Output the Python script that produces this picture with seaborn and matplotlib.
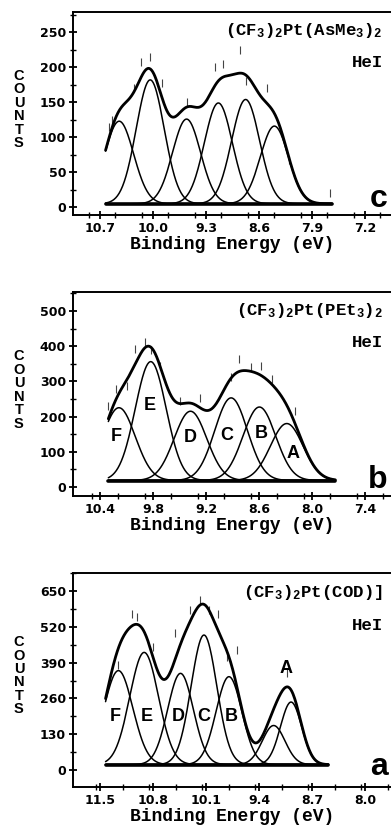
import numpy as np
import pandas as pd
import matplotlib
matplotlib.use("Agg")
import matplotlib.pyplot as plt
from matplotlib.ticker import MultipleLocator
import seaborn as sns

sns.set_theme(style="ticks")
plt.rcParams["font.family"] = ["DejaVu Sans"]
plt.rcParams["text.color"] = "black"
plt.rcParams["axes.labelcolor"] = "black"
plt.rcParams["xtick.color"] = "black"
plt.rcParams["ytick.color"] = "black"
plt.rcParams["mathtext.fontset"] = "custom"
plt.rcParams["mathtext.rm"] = "Liberation Mono:bold"
plt.rcParams["mathtext.it"] = "Liberation Mono:bold"
plt.rcParams["mathtext.bf"] = "Liberation Mono:bold"

# ---------------- data ----------------
# panel c : (CF3)2Pt(AsMe3)2
c_centers = [10.45, 10.04, 9.56, 9.14, 8.78, 8.40]
c_heights = [118, 177, 121, 144, 149, 111]
c_sigmas = [0.19, 0.185, 0.185, 0.185, 0.185, 0.185]
c_baseline = 5
c_range = [10.63, 7.64]
c_obs_e = [10.58, 10.55, 10.26, 10.16, 10.04, 9.89, 9.56, 9.18, 9.08, 8.86, 8.78, 8.50, 8.21, 7.67]
c_obs_y = [115, 125, 170, 207, 215, 177, 150, 200, 205, 224, 181, 171, 67, 21]
c_xticks = [10.7, 10.0, 9.3, 8.6, 7.9, 7.2]
c_yticks = [0, 50, 100, 150, 200, 250]

# panel b : (CF3)2Pt(PEt3)2
b_labels = ["F", "E", "D", "C", "B", "A"]
b_centers = [10.19, 9.83, 9.38, 8.92, 8.60, 8.29]
b_heights = [207, 338, 197, 235, 209, 162]
b_sigmas = [0.185, 0.175, 0.185, 0.185, 0.185, 0.185]
b_baseline = 18
b_range = [10.31, 7.74]
b_lab_e = [10.22, 9.84, 9.38, 8.97, 8.58, 8.22]
b_lab_y = [144, 231, 139, 146, 151, 94]
b_obs_e = [10.31, 10.22, 10.10, 10.01, 9.89, 9.83, 9.73, 9.50, 9.27, 8.92, 8.83, 8.69, 8.58, 8.46, 8.20]
b_obs_y = [230, 278, 288, 392, 411, 388, 345, 245, 254, 311, 364, 340, 345, 307, 216]
b_xticks = [10.4, 9.8, 9.2, 8.6, 8.0, 7.4]
b_yticks = [0, 100, 200, 300, 400, 500]

# panel a : (CF3)2Pt(COD)
a_centers = [11.26, 10.92, 10.44, 10.13, 9.80, 9.21, 8.98]
a_heights = [341, 407, 331, 470, 319, 142, 227]
a_sigmas = [0.19, 0.19, 0.17, 0.17, 0.17, 0.15, 0.14]
a_baseline = 20
a_range = [11.43, 8.49]
a_lab_txt = ["F", "E", "D", "C", "B", "A"]
a_lab_e = [11.30, 10.88, 10.47, 10.13, 9.77, 9.05]
a_lab_y = [194, 194, 194, 194, 194, 367]
a_obs_e = [11.26, 11.08, 11.01, 10.81, 10.51, 10.31, 10.18, 10.07, 9.95, 9.82, 9.69, 9.03]
a_obs_y = [381, 568, 556, 447, 496, 580, 617, 580, 568, 411, 435, 351]
a_xticks = [11.5, 10.8, 10.1, 9.4, 8.7, 8.0]
a_yticks = [0, 130, 260, 390, 520, 650]

# ---------------------------------------------------------------
W, H = 391, 831
fig = plt.figure(figsize=(W / 100, H / 100), dpi=100)
fig.patch.set_facecolor("white")

mono = ["Liberation Mono", "DejaVu Sans Mono"]


def panel(rect_px, centers, heights, sigmas, base, drange, xlim, ylim,
          xticks, yticks, formula, letter, letter_y, obs_e, obs_y,
          lab_e=None, lab_y=None, lab_txt=None):
    x0, top, bottom = rect_px
    ax = fig.add_axes([x0 / W, 1 - bottom / H, (W - x0) / W, (bottom - top) / H])
    grid = np.linspace(drange[0], drange[1], 400)
    comps = []
    for c0, h, s in zip(centers, heights, sigmas):
        g = h * np.exp(-0.5 * ((grid - c0) / s) ** 2)
        comps.append(g)
        sns.lineplot(data=pd.DataFrame({"e": grid, "y": base + g}), x="e", y="y",
                     ax=ax, color="black", lw=1.1)
    env = base + np.sum(comps, axis=0)
    sns.lineplot(data=pd.DataFrame({"e": grid, "y": env}), x="e", y="y",
                 ax=ax, color="black", lw=2.0)
    sns.lineplot(data=pd.DataFrame({"e": drange, "y": [base, base]}), x="e", y="y",
                 ax=ax, color="black", lw=2.6)
    sns.scatterplot(x=obs_e, y=obs_y, ax=ax, marker="|", color="#444444",
                    s=40, linewidth=0.8)
    if lab_e is not None:
        for e, yv, t in zip(lab_e, lab_y, lab_txt):
            ax.text(e, yv, t, ha="center", va="center", fontsize=13,
                    fontweight="bold", family="Liberation Sans", color="black")
    ax.set_xlim(*xlim)
    ax.set_ylim(*ylim)
    ax.set_xticks(xticks)
    ax.set_xticklabels([f"{v:.1f}" for v in xticks])
    ax.set_yticks(yticks)
    ax.set_yticklabels([str(v) for v in yticks])
    ax.xaxis.set_minor_locator(MultipleLocator((xticks[0] - xticks[1]) / 2))
    ax.yaxis.set_minor_locator(MultipleLocator((yticks[1] - yticks[0]) / 2))
    ax.tick_params(which="major", direction="inout", length=6, width=1.3,
                   labelsize=9, pad=2, colors="black")
    ax.tick_params(which="minor", direction="inout", length=4, width=1.0,
                   colors="black")
    for lbl in ax.get_xticklabels() + ax.get_yticklabels():
        lbl.set_fontweight("bold")
    ax.spines["right"].set_visible(False)
    for s in ["left", "bottom", "top"]:
        ax.spines[s].set_linewidth(1.4)
        ax.spines[s].set_color("black")
    ax.set_xlabel("Binding Energy (eV)", family=mono, fontweight="bold",
                  fontsize=13, labelpad=1, color="black")
    ax.set_ylabel("")
    ax.text(-0.17, 0.52, "C\nO\nU\nN\nT\nS", transform=ax.transAxes,
            ha="center", va="center", fontsize=10.5, fontweight="bold",
            family="Liberation Sans", linespacing=0.95, color="black")
    ax.text(0.975, 0.955, formula, transform=ax.transAxes, ha="right", va="top",
            family=mono, fontweight="bold", fontsize=12.5, color="black")
    ax.text(0.975, 0.79, "HeI", transform=ax.transAxes, ha="right", va="top",
            family=mono, fontweight="bold", fontsize=12.5, color="black")
    ax.text(0.99, letter_y, letter, transform=ax.transAxes, ha="right",
            va="bottom", fontsize=23, fontweight="bold", family="Liberation Sans",
            color="black")
    return ax


panel((73, 12, 215), c_centers, c_heights, c_sigmas, c_baseline, c_range,
      (11.06, 6.86), (-11, 279), c_xticks, c_yticks,
      "(CF$_3$)$_2$Pt(AsMe$_3$)$_2$", "c", 0.005, c_obs_e, c_obs_y)

panel((73, 292, 496), b_centers, b_heights, b_sigmas, b_baseline, b_range,
      (10.71, 7.11), (-26, 554), b_xticks, b_yticks,
      "(CF$_3$)$_2$Pt(PEt$_3$)$_2$", "b", 0.005, b_obs_e, b_obs_y,
      b_lab_e, b_lab_y, b_labels)

panel((73, 573, 787), a_centers, a_heights, a_sigmas, a_baseline, a_range,
      (11.86, 7.66), (-61, 715), a_xticks, a_yticks,
      "(CF$_3$)$_2$Pt(COD)]", "a", 0.025, a_obs_e, a_obs_y,
      a_lab_e, a_lab_y, a_lab_txt)

fig.savefig("out.png", dpi=100, facecolor="white")
